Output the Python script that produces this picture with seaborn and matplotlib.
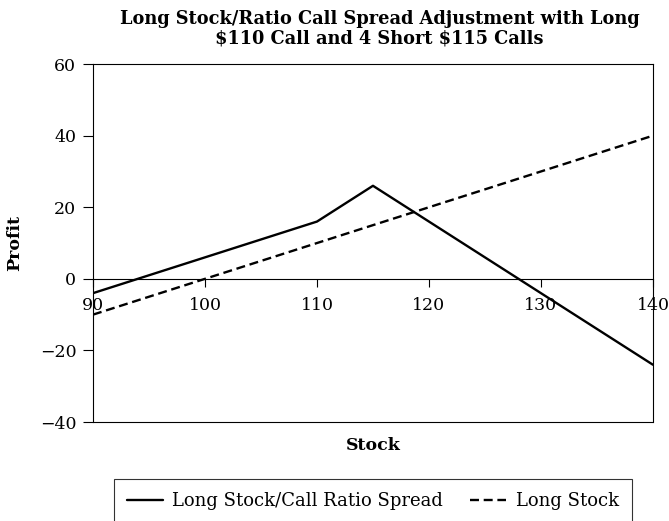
import pandas as pd
import matplotlib
matplotlib.use("Agg")
import matplotlib.pyplot as plt
import seaborn as sns

# payoff data (stock price vs profit)
spread_stock = [90, 110, 115, 140]
spread_profit = [-4, 16, 26, -24]
long_stock = [90, 140]
long_profit = [-10, 40]

spread_name = "Long Stock/Call Ratio Spread"
long_name = "Long Stock"

x_ticks = [90, 100, 110, 120, 130, 140]
y_ticks = [-40, -20, 0, 20, 40, 60]

df = pd.concat([
    pd.DataFrame({"Stock": spread_stock, "Profit": spread_profit, "series": spread_name}),
    pd.DataFrame({"Stock": long_stock, "Profit": long_profit, "series": long_name}),
])

sns.set_style("ticks")
plt.rcParams["font.family"] = ["DejaVu Serif"]
plt.rcParams["axes.linewidth"] = 0.8
plt.rcParams["text.color"] = "black"
plt.rcParams["axes.labelcolor"] = "black"
plt.rcParams["xtick.color"] = "black"
plt.rcParams["ytick.color"] = "black"

fig = plt.figure(figsize=(6.69, 5.21), dpi=100)
ax = fig.add_axes([0.139, 0.190, 0.837, 0.687])

sns.lineplot(data=df, x="Stock", y="Profit", hue="series", style="series",
             palette={spread_name: "black", long_name: "black"},
             dashes={spread_name: "", long_name: (3.8, 2.0)},
             linewidth=1.7, sort=False, ax=ax)

ax.set_xlim(90, 140)
ax.set_ylim(-40, 60)
ax.set_xticks(x_ticks)
ax.set_yticks(y_ticks)
ax.set_yticklabels(["\u221240", "\u221220", "0", "20", "40", "60"])

# x axis drawn through zero, box kept around the plot
ax.spines["bottom"].set_position(("data", 0))
ax.axhline(-40, color="black", linewidth=0.8, clip_on=False)
for s in ["top", "right", "left", "bottom"]:
    ax.spines[s].set_visible(True)
    ax.spines[s].set_color("black")

ax.tick_params(axis="x", direction="out", length=6, width=0.8, pad=7, labelsize=12.5)
ax.tick_params(axis="y", direction="out", length=7, width=0.8, pad=5, labelsize=12.5)

ax.set_xlabel("Stock", fontsize=12.5, fontweight="bold", labelpad=0)
ax.xaxis.set_label_coords(0.5, -0.043)
ax.set_ylabel("Profit", fontsize=12.5, fontweight="bold", labelpad=12)

ax.set_title("Long Stock/Ratio Call Spread Adjustment with Long\n\\$110 Call and 4 Short \\$115 Calls",
             fontsize=12.8, fontweight="bold", pad=15, linespacing=1.1, x=0.512)

leg = ax.legend(loc="upper center", bbox_to_anchor=(0.5, -0.159), ncol=2,
                frameon=True, fancybox=False, edgecolor="black", fontsize=13,
                handlelength=2.0, handletextpad=0.5, columnspacing=1.5,
                borderpad=0.75, borderaxespad=0)
leg.get_frame().set_linewidth(0.8)

fig.savefig("out.png", dpi=100)
